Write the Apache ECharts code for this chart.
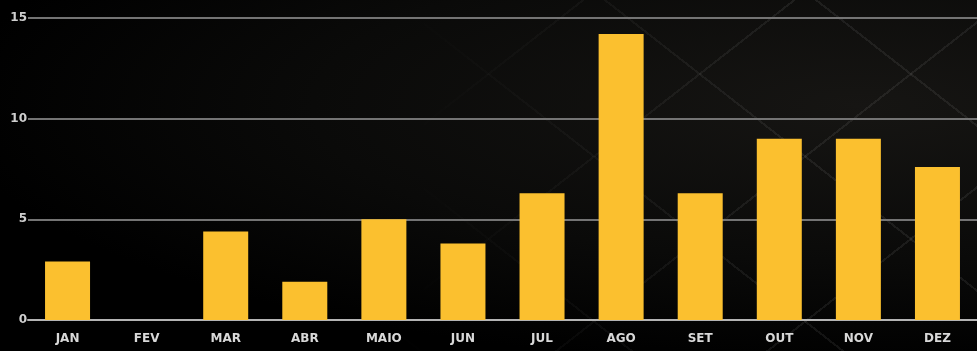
<!DOCTYPE html>
<html>
<head>
<meta charset="utf-8">
<style>
  html, body { margin: 0; padding: 0; width: 977px; height: 351px; overflow: hidden; background: #000; }
  #wrap { position: relative; width: 977px; height: 351px;
    background: radial-gradient(ellipse at 88% 30%, #161513 0%, #0a0a09 45%, #000 75%); }
  #lattice { position: absolute; inset: 0;
    background:
      repeating-linear-gradient(38deg, transparent 0 128px, rgba(255,255,255,0.07) 128px 130px),
      repeating-linear-gradient(-38deg, transparent 0 128px, rgba(255,255,255,0.07) 128px 130px);
    -webkit-mask-image: linear-gradient(90deg, transparent 0%, transparent 40%, #000 80%);
    mask-image: linear-gradient(90deg, transparent 0%, transparent 40%, #000 80%); }
  #chart { position: absolute; inset: 0; width: 977px; height: 351px; }
</style>
<script src="https://cdn.jsdelivr.net/npm/echarts@6/dist/echarts.min.js"></script>
</head>
<body>
<div id="wrap"><div id="lattice"></div><div id="chart"></div></div>
<script>
// Monthly values
const months = ['JAN', 'FEV', 'MAR', 'ABR', 'MAIO', 'JUN', 'JUL', 'AGO', 'SET', 'OUT', 'NOV', 'DEZ'];
const values = [2.9, 0, 4.4, 1.9, 5.0, 3.8, 6.3, 14.2, 6.3, 9.0, 9.0, 7.6];
const yTicks = [0, 5, 10, 15];

const chart = echarts.init(document.getElementById('chart'), null, { renderer: 'canvas' });
chart.setOption({
  backgroundColor: 'transparent',
  animation: false,
  grid: { left: 28, right: 0, top: 18, bottom: 31, containLabel: false },
  xAxis: {
    type: 'category',
    data: months,
    axisLine: { show: true, lineStyle: { color: '#b4b4b4', width: 2 } },
    axisTick: { show: false },
    axisLabel: {
      color: '#d8d8d8', fontFamily: 'DejaVu Sans', fontWeight: 'bold', fontSize: 12, margin: 13
    }
  },
  yAxis: {
    type: 'value',
    min: yTicks[0],
    max: yTicks[yTicks.length - 1],
    interval: 5,
    axisLine: { show: false },
    axisTick: { show: false },
    axisLabel: {
      color: '#cfcfcf', fontFamily: 'DejaVu Sans', fontWeight: 'bold', fontSize: 12, margin: 1
    },
    splitLine: { lineStyle: { color: '#747474', width: 2 } }
  },
  series: [{
    type: 'bar',
    data: values,
    barWidth: 45,
    itemStyle: { color: '#fbc02f' }
  }]
});
</script>
</body>
</html>
